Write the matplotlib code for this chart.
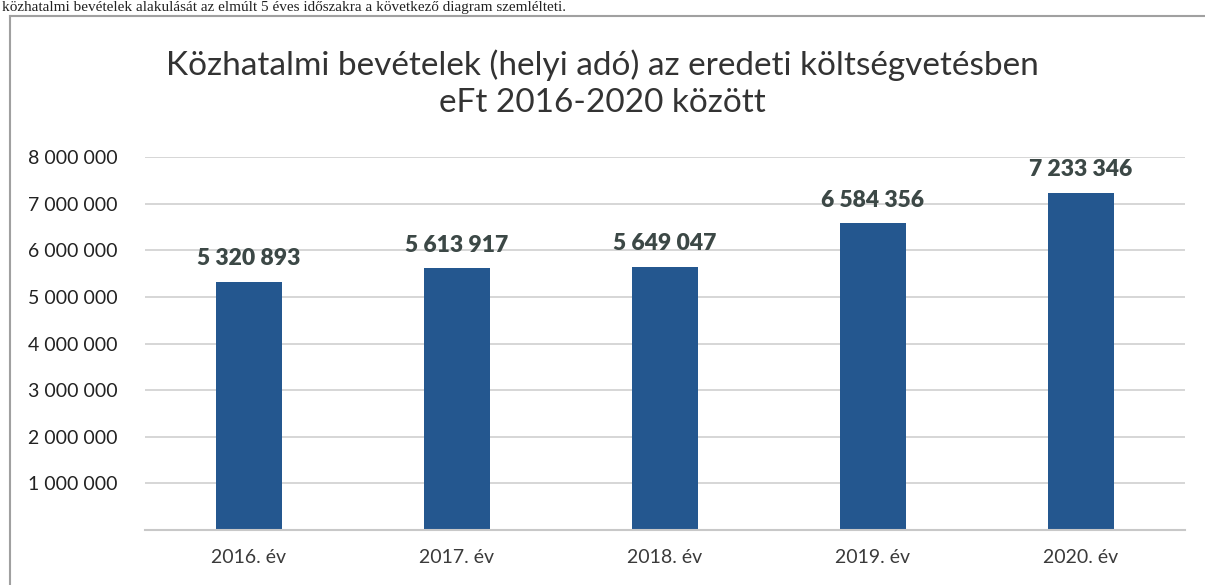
import matplotlib.pyplot as plt
from matplotlib.lines import Line2D

# data
years = ["2016. év", "2017. év", "2018. év", "2019. év", "2020. év"]
values = [5320893, 5613917, 5649047, 6584356, 7233346]
yticks = [1000000, 2000000, 3000000, 4000000, 5000000, 6000000, 7000000, 8000000]


def hu_fmt(v):
    return f"{v:,}".replace(",", " ")


plt.rcParams['font.family'] = ['Lato', 'DejaVu Sans']

fig = plt.figure(figsize=(12.05, 5.85), dpi=100)
ax = fig.add_axes([0.1203, 0.094, 0.8631, 0.6376])

x = range(len(years))
ax.bar(x, values, width=0.32, color="#24578f", zorder=2)

for xi, v in zip(x, values):
    ax.annotate(hu_fmt(v), (xi, v), xytext=(0, 9), textcoords="offset points",
                ha="center", va="bottom", fontsize=16.5, fontweight="heavy",
                color="#3c4846", annotation_clip=False)

ax.set_xlim(-0.5, len(years) - 0.5)
ax.set_ylim(0, 8000000)
ax.set_xticks(list(x))
ax.set_xticklabels(years, fontsize=14, color="#3a3a3a")
ax.set_yticks(yticks)
ax.set_yticklabels([hu_fmt(t) for t in yticks], fontsize=14, color="#222222")
ax.tick_params(axis="both", length=0)
ax.tick_params(axis="y", pad=20)
ax.tick_params(axis="x", pad=14)
ax.grid(axis="y", color="#d0d0d0", linewidth=1.2, zorder=0)
for s in ["top", "right", "left"]:
    ax.spines[s].set_visible(False)
ax.spines["bottom"].set_color("#c8c8c8")
ax.spines["bottom"].set_linewidth(1.5)

# title
fig.text(0.5, 0.857, "Közhatalmi bevételek (helyi adó) az eredeti költségvetésben\neFt 2016-2020 között",
         ha="center", va="center", fontsize=24, color="#333333", linespacing=1.3)

# frame of the pasted chart
fig.add_artist(Line2D([10 / 1205, 10 / 1205], [0, 1 - 16 / 585], color="#a0a0a0", linewidth=1.5))
fig.add_artist(Line2D([10 / 1205, 1], [1 - 16 / 585, 1 - 16 / 585], color="#a0a0a0", linewidth=1.5))

# line of document text above the chart
fig.text(0.002, 0.999, "közhatalmi bevételek alakulását az elmúlt 5 éves időszakra a következő diagram szemlélteti.",
         ha="left", va="top", fontsize=11, family=['Liberation Serif', 'DejaVu Serif'], color="#222222")

plt.savefig("out.png", dpi=100)
